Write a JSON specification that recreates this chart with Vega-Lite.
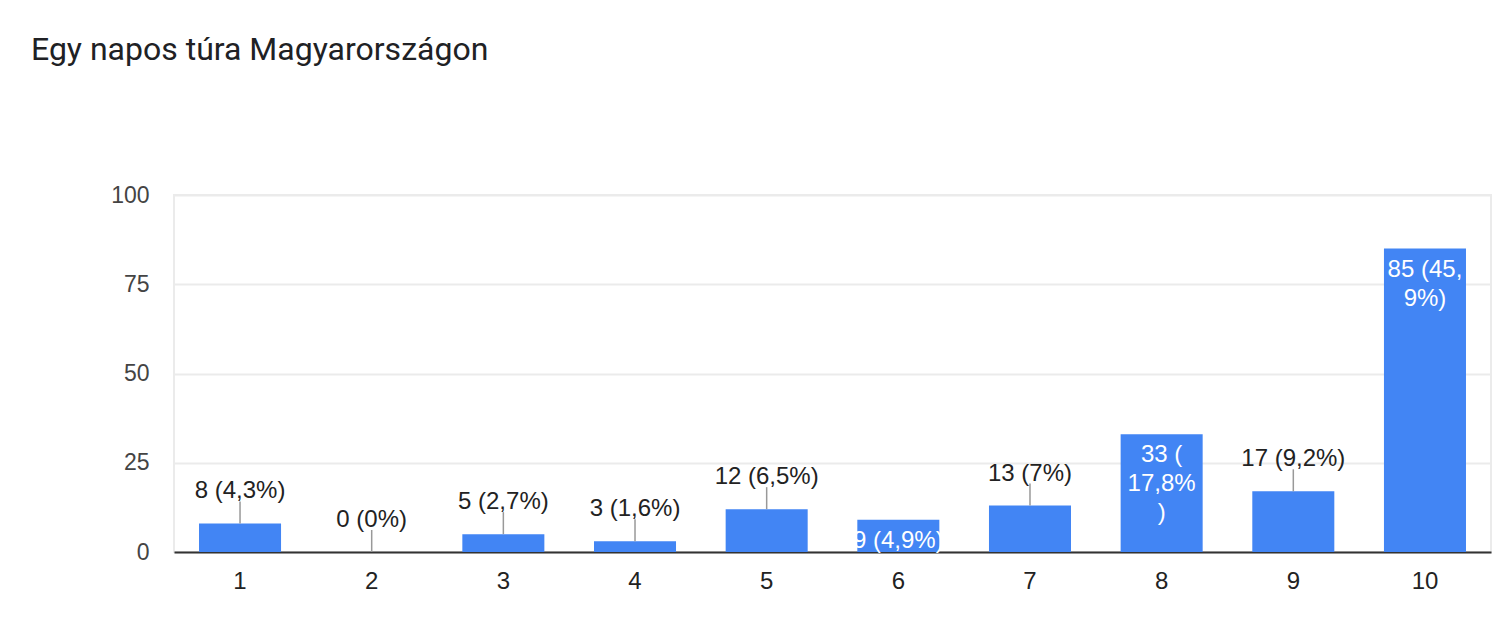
{
  "$schema": "https://vega.github.io/schema/vega-lite/v6.json",
  "width": 1317,
  "height": 357,
  "autosize": {"type": "none"},
  "padding": {"left": 174, "top": 195, "right": 13, "bottom": 74},
  "background": "white",
  "title": {
    "text": "Egy napos túra Magyarországon",
    "anchor": "start",
    "frame": "group",
    "font": "Roboto",
    "fontSize": 32,
    "fontWeight": "normal",
    "color": "#202124",
    "dx": -143,
    "offset": 92,
    "baseline": "alphabetic"
  },
  "config": {
    "view": {"stroke": "#ebebeb", "strokeWidth": 2},
    "font": "Liberation Sans"
  },
  "data": {
    "values": [
      {"score": "1", "count": 8, "label": "8 (4,3%)", "pos": "out"},
      {"score": "2", "count": 0, "label": "0 (0%)", "pos": "out"},
      {"score": "3", "count": 5, "label": "5 (2,7%)", "pos": "out"},
      {"score": "4", "count": 3, "label": "3 (1,6%)", "pos": "out"},
      {"score": "5", "count": 12, "label": "12 (6,5%)", "pos": "out"},
      {"score": "6", "count": 9, "label": "9 (4,9%)", "pos": "in"},
      {"score": "7", "count": 13, "label": "13 (7%)", "pos": "out"},
      {"score": "8", "count": 33, "label": "33 (\n17,8%\n)", "pos": "in"},
      {"score": "9", "count": 17, "label": "17 (9,2%)", "pos": "out"},
      {"score": "10", "count": 85, "label": "85 (45,\n9%)", "pos": "in"}
    ]
  },
  "encoding": {
    "x": {
      "field": "score",
      "type": "ordinal",
      "sort": null,
      "title": null,
      "scale": {"paddingInner": 0.377, "paddingOuter": 0.19},
      "axis": {
        "labelAngle": 0,
        "labelFont": "Liberation Sans",
        "labelFontSize": 24,
        "labelColor": "#222222",
        "labelPadding": 17,
        "ticks": false,
        "domainColor": "#333333",
        "domainWidth": 2
      }
    }
  },
  "layer": [
    {
      "mark": {"type": "bar", "color": "#4285f4"},
      "encoding": {
        "y": {
          "field": "count",
          "type": "quantitative",
          "title": null,
          "scale": {"domain": [0, 100], "nice": false},
          "axis": {
            "values": [0, 25, 50, 75, 100],
            "labelFont": "Liberation Sans",
            "labelFontSize": 23,
            "labelColor": "#444444",
            "labelPadding": 25,
            "ticks": false,
            "domain": false,
            "gridColor": "#ebebeb",
            "gridWidth": 2
          }
        }
      }
    },
    {
      "transform": [{"filter": "datum.pos === 'out'"}],
      "mark": {"type": "rule", "color": "#999999", "strokeWidth": 1.5, "y2Offset": -22},
      "encoding": {
        "y": {"field": "count", "type": "quantitative"},
        "y2": {"field": "count"}
      }
    },
    {
      "transform": [{"filter": "datum.pos === 'out'"}],
      "mark": {"type": "text", "baseline": "middle", "dy": -32, "fontSize": 24, "color": "#222222", "font": "Liberation Sans"},
      "encoding": {
        "y": {"field": "count", "type": "quantitative"},
        "text": {"field": "label"}
      }
    },
    {
      "transform": [{"filter": "datum.pos === 'in'"}],
      "mark": {"type": "text", "baseline": "top", "dy": 9, "fontSize": 24, "lineHeight": 29, "lineBreak": "\n", "color": "white", "font": "Liberation Sans"},
      "encoding": {
        "y": {"field": "count", "type": "quantitative"},
        "text": {"field": "label"}
      }
    }
  ]
}
